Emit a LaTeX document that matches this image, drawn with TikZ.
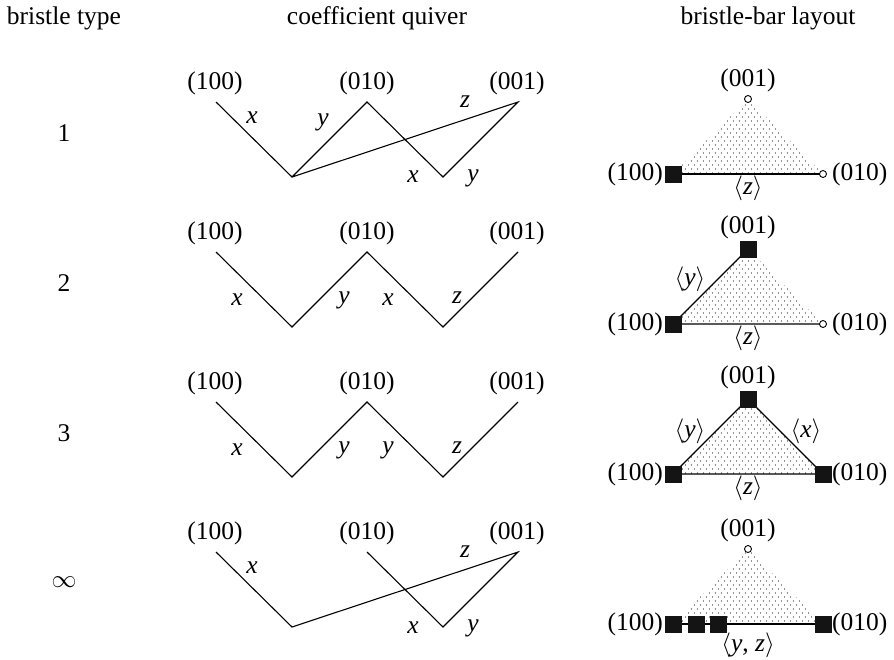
\documentclass[tikz,border=0pt]{standalone}
\usepackage{fontspec}
\setmainfont{Liberation Serif}
\usetikzlibrary{patterns}
\pgfdeclarepatternformonly{tridots}{\pgfpoint{-1pt}{-1pt}}{\pgfpoint{7pt}{9pt}}{\pgfpoint{6pt}{8pt}}{%
  \pgfpathcircle{\pgfpoint{1.5pt}{2pt}}{0.7pt}%
  \pgfpathcircle{\pgfpoint{4.5pt}{6pt}}{0.7pt}%
  \pgfusepath{fill}}
\tikzset{
  lbl/.style={font=\fontsize{25.5}{30}\selectfont, inner sep=0pt},
  edge/.style={line width=1.1pt},
  sq/.style={fill=black!92, minimum size=17pt, inner sep=0pt},
  circ/.style={circle, draw, line width=0.9pt, fill=white, minimum size=7pt, inner sep=0pt},
  dotfill/.style={pattern=tridots, pattern color=black!85}
}
\newcommand{\vx}{\textit{x}}
\newcommand{\vy}{\textit{y}}
\newcommand{\vz}{\textit{z}}
\begin{document}
\begin{tikzpicture}[x=1pt,y=-1pt]
\path[use as bounding box] (0,0) rectangle (894,659);

% headers
\node[lbl] (h1) at (64,18) {bristle type};
\node[lbl] (h2) at (377,18) {coefficient quiver};
\node[lbl] (h3) at (768,18) {bristle-bar layout};

% row labels
\node[lbl] (r1) at (64,133) {1};
\node[lbl] (r2) at (64,283) {2};
\node[lbl] (r3) at (64,433) {3};
\node[lbl] (r4) at (64,582) {$\infty$};

% ---------------- quivers ----------------
% row 1
\node[lbl] (qa1) at (215,83) {(100)};
\node[lbl] (qc1) at (367,83) {(010)};
\node[lbl] (qe1) at (517,83) {(001)};
\coordinate (a1) at (216,102);
\coordinate (b1) at (292,177);
\coordinate (c1) at (367,102);
\coordinate (d1) at (443,177);
\coordinate (e1) at (518,102);
\draw[edge] (a1) -- (b1) -- (c1) -- (d1) -- (e1) -- (b1);
\node[lbl] (l11) at (252,118) {\vx};
\node[lbl] (l12) at (323,122) {\vy};
\node[lbl] (l13) at (465,102) {\vz};
\node[lbl] (l14) at (413,177) {\vx};
\node[lbl] (l15) at (473,178) {\vy};

% row 2
\node[lbl] (qa2) at (215,233) {(100)};
\node[lbl] (qc2) at (367,233) {(010)};
\node[lbl] (qe2) at (517,233) {(001)};
\coordinate (a2) at (216,252);
\coordinate (b2) at (292,327);
\coordinate (c2) at (367,252);
\coordinate (d2) at (443,327);
\coordinate (e2) at (518,252);
\draw[edge] (a2) -- (b2) -- (c2) -- (d2) -- (e2);
\node[lbl] (l21) at (237,300) {\vx};
\node[lbl] (l22) at (344,300) {\vy};
\node[lbl] (l23) at (388,300) {\vx};
\node[lbl] (l24) at (457,298) {\vz};

% row 3
\node[lbl] (qa3) at (215,383) {(100)};
\node[lbl] (qc3) at (367,383) {(010)};
\node[lbl] (qe3) at (517,383) {(001)};
\coordinate (a3) at (216,402);
\coordinate (b3) at (292,477);
\coordinate (c3) at (367,402);
\coordinate (d3) at (443,477);
\coordinate (e3) at (518,402);
\draw[edge] (a3) -- (b3) -- (c3) -- (d3) -- (e3);
\node[lbl] (l31) at (237,450) {\vx};
\node[lbl] (l32) at (344,450) {\vy};
\node[lbl] (l33) at (388,450) {\vy};
\node[lbl] (l34) at (457,448) {\vz};

% row 4
\node[lbl] (qa4) at (215,533) {(100)};
\node[lbl] (qc4) at (367,533) {(010)};
\node[lbl] (qe4) at (517,533) {(001)};
\coordinate (a4) at (216,552);
\coordinate (b4) at (292,627);
\coordinate (c4) at (367,552);
\coordinate (d4) at (443,627);
\coordinate (e4) at (518,552);
\draw[edge] (a4) -- (b4) -- (e4) -- (d4) -- (c4);
\node[lbl] (l41) at (252,568) {\vx};
\node[lbl] (l42) at (465,552) {\vz};
\node[lbl] (l43) at (413,628) {\vx};
\node[lbl] (l44) at (473,628) {\vy};

% ---------------- bristle-bar layouts ----------------
% row 1
\coordinate (L1) at (673,174);
\coordinate (R1) at (823,174);
\coordinate (A1) at (748,99);
\fill[dotfill] (L1) -- (R1) -- (A1) -- cycle;
\draw[edge] (L1) -- (R1);
\node[sq] (sL1) at (L1) {};
\node[circ] (cR1) at (R1) {};
\node[circ] (cA1) at (A1) {};
\node[lbl] (tA1) at (748,80) {(001)};
\node[lbl, anchor=east] (tL1) at (663,174) {(100)};
\node[lbl, anchor=west] (tR1) at (832,174) {(010)};
\node[lbl] (bz1) at (748,188) {$\langle$\vz$\rangle$};

% row 2
\coordinate (L2) at (673,324);
\coordinate (R2) at (823,324);
\coordinate (A2) at (748,249);
\fill[dotfill] (L2) -- (R2) -- (A2) -- cycle;
\draw[edge] (A2) -- (L2) -- (R2);
\node[sq] (sL2) at (L2) {};
\node[sq] (sA2) at (A2) {};
\node[circ] (cR2) at (R2) {};
\node[lbl] (tA2) at (748,227) {(001)};
\node[lbl, anchor=east] (tL2) at (663,324) {(100)};
\node[lbl, anchor=west] (tR2) at (832,324) {(010)};
\node[lbl] (bz2) at (748,338) {$\langle$\vz$\rangle$};
\node[lbl] (by2) at (690,279) {$\langle$\vy$\rangle$};

% row 3
\coordinate (L3) at (673,474);
\coordinate (R3) at (823,474);
\coordinate (A3) at (748,399);
\fill[dotfill] (L3) -- (R3) -- (A3) -- cycle;
\draw[edge] (A3) -- (L3) -- (R3) -- cycle;
\node[sq] (sL3) at (L3) {};
\node[sq] (sA3) at (A3) {};
\node[sq] (sR3) at (R3) {};
\node[lbl] (tA3) at (748,377) {(001)};
\node[lbl, anchor=east] (tL3) at (663,474) {(100)};
\node[lbl, anchor=west] (tR3) at (832,474) {(010)};
\node[lbl] (bz3) at (748,488) {$\langle$\vz$\rangle$};
\node[lbl] (by3) at (690,431) {$\langle$\vy$\rangle$};
\node[lbl] (bx3) at (806,431) {$\langle$\vx$\rangle$};

% row 4
\coordinate (L4) at (673,624);
\coordinate (R4) at (823,624);
\coordinate (A4) at (748,549);
\fill[dotfill] (L4) -- (R4) -- (A4) -- cycle;
\draw[edge] (L4) -- (R4);
\node[sq] (sL4) at (L4) {};
\node[sq] (sL4b) at (696,624) {};
\node[sq] (sL4c) at (718,624) {};
\node[sq] (sR4) at (R4) {};
\node[circ] (cA4) at (A4) {};
\node[lbl] (tA4) at (748,530) {(001)};
\node[lbl, anchor=east] (tL4) at (663,624) {(100)};
\node[lbl, anchor=west] (tR4) at (832,624) {(010)};
\node[lbl] (byz4) at (748,645) {$\langle$\vy, \vz$\rangle$};
\end{tikzpicture}
\end{document}
